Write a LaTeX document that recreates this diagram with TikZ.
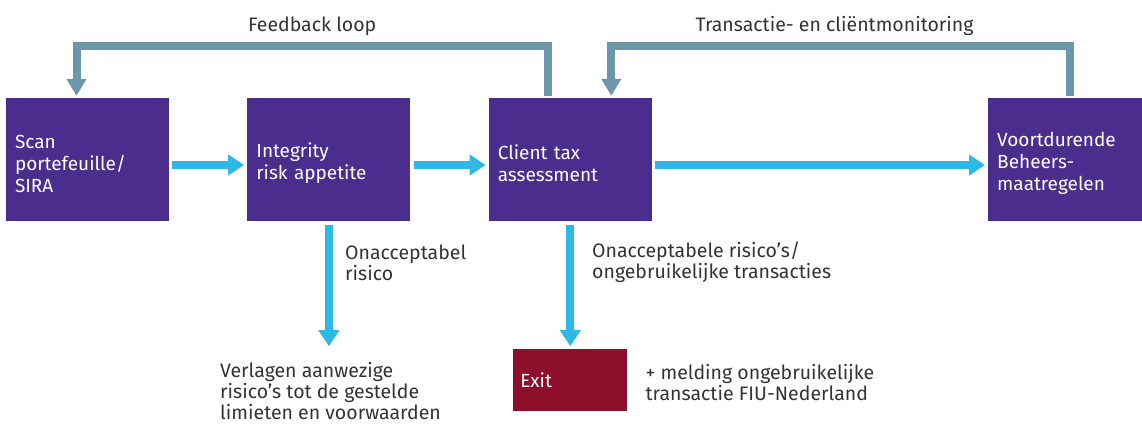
\documentclass[tikz,border=0pt]{standalone}
\usepackage{fontspec}
\setmainfont{Fira Sans}
\usetikzlibrary{arrows.meta, positioning}
\definecolor{boxpurple}{RGB}{75,45,142}
\definecolor{flowcyan}{RGB}{45,184,230}
\definecolor{loopgrey}{RGB}{109,149,171}
\definecolor{exitred}{RGB}{142,15,44}
\definecolor{labelgrey}{RGB}{51,51,51}

\begin{document}
\begin{tikzpicture}[x=1pt, y=1pt,
	boxbase/.style={text=white, inner ysep=0pt, align=left, font=\fontsize{19}{22}\selectfont},
	stagebox/.style={boxbase, fill=boxpurple, minimum width=163pt, minimum height=123pt, text width=145pt, inner xsep=9pt, execute at begin node={\rule{0pt}{22pt}}},
	exitbox/.style={boxbase, fill=exitred, minimum width=114pt, minimum height=62pt, text width=100pt, inner xsep=7pt},
	flowarrow/.style={draw=flowcyan, line width=8pt, -{Triangle[width=20pt, length=16pt]}},
	looparrow/.style={draw=loopgrey, line width=8pt, -{Triangle[width=19pt, length=17pt]}},
	sidenote/.style={text=labelgrey, align=left, inner sep=0pt, font=\fontsize{19.5}{21}\selectfont}]
	\useasboundingbox (0,0) rectangle (1142,424);

	\node[stagebox] (scan) at (87.5,264.5) {Scan\\portefeuille/\\SIRA};
	\node[stagebox, right=78pt of scan] (integrity) {Integrity\\risk appetite};
	\node[stagebox, right=78pt of integrity] (client) {Client tax\\assessment};
	\node[stagebox, right=336pt of client] (voort) {Voortdurende\\Beheers-\\maatregelen};
	\node[exitbox, below=128pt of client] (exit) {Exit};

	\draw[flowarrow, shorten <=3pt, shorten >=3pt] ([yshift=-5.5pt]scan.east) -- ([yshift=-5.5pt]integrity.west);
	\draw[flowarrow, shorten <=3pt, shorten >=3pt] ([yshift=-5.5pt]integrity.east) -- ([yshift=-5.5pt]client.west);
	\draw[flowarrow, shorten <=3pt, shorten >=3pt] ([yshift=-5.5pt]client.east) -- ([yshift=-5.5pt]voort.west);

	\coordinate (reducetip) at ([yshift=-125pt]integrity.south);
	\draw[flowarrow, shorten <=4pt] (integrity.south) -- (reducetip);
	\draw[flowarrow, shorten <=4pt, shorten >=3pt] (client.south) -- (exit.north);

	\draw[looparrow] ([xshift=-22.5pt, yshift=2pt]client.north) -- ++(0,50) -| node[pos=0.25, yshift=20pt, sidenote] {Feedback loop} ([xshift=-11pt, yshift=2pt]scan.north);
	\draw[looparrow] ([yshift=2pt]voort.north) -- ++(0,50) -| node[pos=0.25, xshift=-6pt, yshift=20pt, sidenote] {Transactie- en cliëntmonitoring} ([xshift=41pt, yshift=2pt]client.north);

	\node[sidenote, anchor=west] (unaccept) at (345,161.5) {Onacceptabel\\risico};
	\node[sidenote, anchor=west] (unusual) at (592,161.5) {Onacceptabele risico’s/\\ongebruikelijke transacties};
	\node[sidenote, anchor=west] (reduce) at (220,32.5) {Verlagen aanwezige\\risico’s tot de gestelde\\limieten en voorwaarden};
	\node[sidenote, right=18pt of exit, yshift=-2.5pt] (report) {+ melding ongebruikelijke\\transactie FIU-Nederland};

\end{tikzpicture}
\end{document}
